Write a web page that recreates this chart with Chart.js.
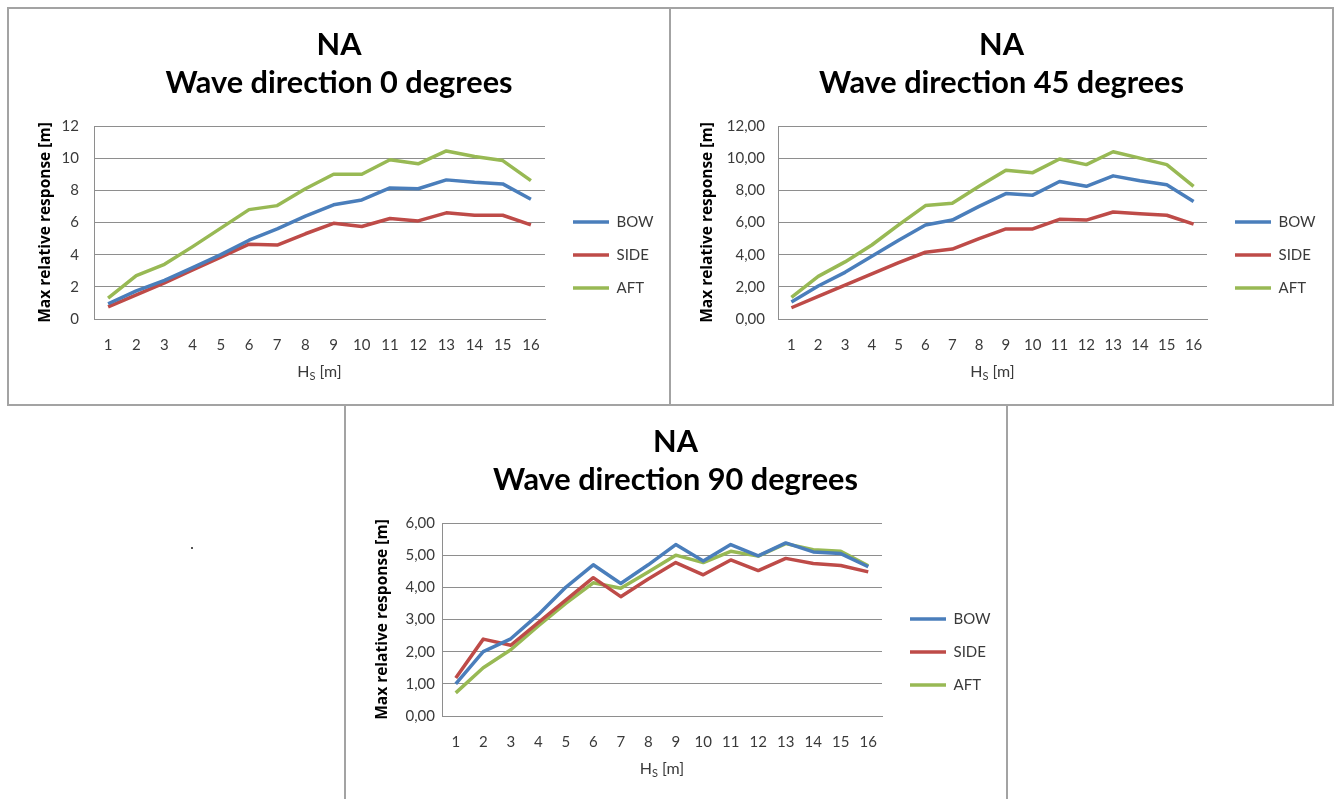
<!DOCTYPE html>
<html><head><meta charset="utf-8">
<script src="https://cdn.jsdelivr.net/npm/chart.js@4/dist/chart.umd.min.js"></script>
<style>
html,body{margin:0;padding:0;background:#fff;width:1340px;height:799px;overflow:hidden;position:relative}
canvas{position:absolute}
.ln{position:absolute;background:#a3a3a3;z-index:5}
</style></head><body>
<canvas id="c1" width="662" height="397" style="left:8px;top:8px"></canvas>
<canvas id="c2" width="663" height="397" style="left:670px;top:8px"></canvas>
<canvas id="c3" width="661" height="394" style="left:345px;top:405px"></canvas>
<div class="ln" style="left:7px;top:7px;width:1327px;height:2px"></div>
<div class="ln" style="left:7px;top:404px;width:1327px;height:2px"></div>
<div class="ln" style="left:7px;top:7px;width:2px;height:399px"></div>
<div class="ln" style="left:669px;top:7px;width:2px;height:399px"></div>
<div class="ln" style="left:1332px;top:7px;width:2px;height:399px"></div>
<div class="ln" style="left:344px;top:405px;width:2px;height:394px"></div>
<div class="ln" style="left:1006px;top:405px;width:2px;height:394px"></div>
<div class="ln" style="left:191px;top:547px;width:2px;height:2px;background:#555"></div>
<script>
// ---- data ----
const hs = ['1','2','3','4','5','6','7','8','9','10','11','12','13','14','15','16'];
const seriesNames = ['BOW','SIDE','AFT'];
const titles0 = ['NA','Wave direction 0 degrees'];
const titles45 = ['NA','Wave direction 45 degrees'];
const titles90 = ['NA','Wave direction 90 degrees'];
const yTitle = 'Max relative response [m]';

const bow0  = [0.95,1.75,2.4,3.2,4.0,4.9,5.6,6.4,7.1,7.4,8.15,8.1,8.65,8.5,8.4,7.45];
const side0 = [0.75,1.5,2.25,3.05,3.85,4.65,4.6,5.3,5.95,5.75,6.25,6.1,6.6,6.45,6.45,5.85];
const aft0  = [1.3,2.7,3.4,4.5,5.65,6.8,7.05,8.1,9.0,9.0,9.9,9.65,10.45,10.1,9.85,8.6];

const bow45  = [1.05,2.05,2.9,3.9,4.9,5.85,6.15,7.0,7.8,7.7,8.55,8.25,8.9,8.6,8.35,7.3];
const side45 = [0.7,1.4,2.1,2.8,3.5,4.15,4.35,5.0,5.6,5.6,6.2,6.15,6.65,6.55,6.45,5.9];
const aft45  = [1.35,2.65,3.55,4.6,5.85,7.05,7.2,8.25,9.25,9.1,9.95,9.6,10.4,10.0,9.6,8.25];

const bow90  = [1.0,2.0,2.4,3.15,4.0,4.7,4.12,4.7,5.33,4.82,5.33,4.98,5.38,5.1,5.05,4.64];
const side90 = [1.18,2.39,2.2,2.9,3.6,4.3,3.71,4.26,4.77,4.39,4.85,4.52,4.9,4.74,4.68,4.48];
const aft90  = [0.72,1.5,2.06,2.8,3.5,4.14,3.97,4.48,5.0,4.77,5.12,4.97,5.36,5.17,5.12,4.67];

const colors = ['#4a7ebb','#be4b48','#98b954'];
const gridColor = '#8e8e8e';
const textColor = '#3a3a3a';

Chart.defaults.font.family = 'Lato';

const placer = {
  id: 'placer',
  afterLayout(chart, args, o) {
    const lg = chart.legend;
    if (lg) {
      lg.left = o.legendX - o.pad;
      lg.top = o.legendY - o.pad;
      lg.right = chart.width; lg.bottom = chart.height;
      lg.width = lg.right - lg.left; lg.height = lg.bottom - lg.top;
    }
    const tb = chart.titleBlock;
    if (tb) { tb.left = 0; tb.right = chart.width; tb.width = chart.width; }
  },
  afterDraw(chart, args, o) {
    const ctx = chart.ctx, a = chart.chartArea;
    ctx.save();
    ctx.fillStyle = textColor; ctx.textBaseline = 'middle'; ctx.textAlign = 'left';
    const f1 = '16px Lato', f2 = '11px Lato';
    ctx.font = f1; const wH = ctx.measureText('H').width; const wR = ctx.measureText(' [m]').width;
    ctx.font = f2; const wS = ctx.measureText('S').width;
    let x = (a.left + a.right) / 2 - (wH + wS + wR) / 2;
    const y = o.titleY;
    ctx.font = f1; ctx.fillText('H', x, y); x += wH;
    ctx.font = f2; ctx.fillText('S', x, y + 4); x += wS;
    ctx.font = f1; ctx.fillText(' [m]', x, y);
    ctx.restore();
  }
};

function make(id, title, data, yMax, yStep, dec, left, tickPad, rightPad) {
  const cv = document.getElementById(id);
  const H = cv.height;
  const pad = 18;
  new Chart(cv, {
    type: 'line',
    data: {
      labels: hs,
      datasets: data.map((d, i) => ({
        label: seriesNames[i], data: d, borderColor: colors[i], backgroundColor: colors[i],
        borderWidth: 3.5, pointRadius: 0, tension: 0, fill: false,
        borderJoinStyle: 'round', borderCapStyle: 'butt'
      }))
    },
    options: {
      responsive: false, animation: false, devicePixelRatio: 1,
      layout: { padding: { left: 0, top: 0, bottom: 0, right: rightPad } },
      plugins: {
        tooltip: { enabled: false },
        title: {
          display: true, text: title, color: '#000',
          font: { family: 'Lato', size: 30.7, weight: 'bold', lineHeight: 37.5/30.7 },
          padding: { top: 18.5, bottom: 24.5 }
        },
        legend: {
          position: 'right', align: 'start', maxWidth: 85,
          labels: {
            usePointStyle: true, pointStyle: 'line', pointStyleWidth: 36, boxWidth: 36,
            padding: pad, color: textColor, font: { family: 'Lato', size: 15 }
          }
        },
        placer: { legendX: 565, legendY: 214 - 7.5, pad: pad, titleY: 364 }
      },
      scales: {
        x: {
          offset: true,
          grid: { display: false, drawTicks: false },
          border: { display: true, color: gridColor, width: 1 },
          ticks: { color: textColor, font: { size: 15 }, padding: 17, maxRotation: 0, autoSkip: false },
          afterFit: s => { s.height = H - 311; }
        },
        y: {
          min: 0, max: yMax,
          grid: { color: gridColor, lineWidth: 1, drawTicks: false },
          border: { display: true, color: gridColor, width: 1 },
          ticks: {
            stepSize: yStep, color: textColor, font: { size: 15 }, padding: tickPad,
            callback: v => Number(v).toFixed(dec).replace('.', ',')
          },
          title: {
            display: true, text: yTitle, color: '#000',
            font: { family: 'Open Sans', size: 15.5, weight: 'bold' },
            padding: { top: 28, bottom: 0 }
          },
          afterFit: s => { s.width = left; }
        }
      }
    },
    plugins: [placer]
  });
}

make('c1', titles0,  [bow0, side0, aft0],    12, 2, 0, 86, 15, 40);
make('c2', titles45, [bow45, side45, aft45], 12, 2, 2, 108, 13, 41);
make('c3', titles90, [bow90, side90, aft90], 6, 1, 2, 97, 7, 39);
</script>
</body></html>
